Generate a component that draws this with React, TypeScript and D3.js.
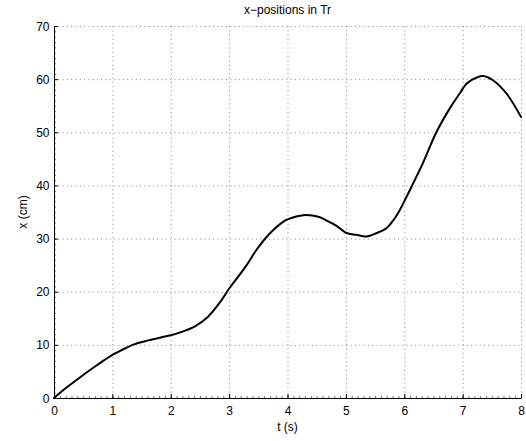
import React from "react";
import * as d3 from "d3";

const tValues = [0, 0.23, 0.46, 0.74, 1.0, 1.14, 1.37, 1.6, 1.83, 2.0, 2.2, 2.4, 2.63, 2.85, 3.0, 3.07, 3.3, 3.47, 3.7, 3.93, 4.0, 4.27, 4.53, 4.67, 4.84, 5.0, 5.18, 5.35, 5.52, 5.7, 5.81, 5.92, 6.0, 6.18, 6.32, 6.55, 6.78, 6.95, 7.07, 7.24, 7.35, 7.52, 7.75, 8.0];
const xValues = [0, 2.1, 4.0, 6.2, 8.1, 8.9, 10.1, 10.8, 11.4, 11.8, 12.5, 13.4, 15.2, 18.1, 20.6, 21.6, 25.0, 27.9, 31.0, 33.2, 33.6, 34.4, 34.1, 33.4, 32.4, 31.1, 30.7, 30.4, 31.0, 32.0, 33.4, 35.3, 37.0, 41.0, 44.2, 50.0, 54.5, 57.3, 59.2, 60.3, 60.6, 59.8, 57.3, 52.9];
const xTicks = [0, 1, 2, 3, 4, 5, 6, 7, 8];
const yTicks = [0, 10, 20, 30, 40, 50, 60, 70];
const title = "x\u2212positions in Tr";
const xLabel = "t (s)";
const yLabel = "x (cm)";

export default function App() {
  const W = 526, H = 441;
  const left = 54, right = 521, top = 26, bottom = 398;
  const xs = d3.scaleLinear().domain([0, 8]).range([left, right]);
  const ys = d3.scaleLinear().domain([0, 70]).range([bottom, top]);
  const data = tValues.map((t, i) => [t, xValues[i]] as [number, number]);
  const line = d3.line<[number, number]>().x(d => xs(d[0])).y(d => ys(d[1])).curve(d3.curveCatmullRom.alpha(0.5));
  const xMinor = d3.range(0, 80.5, 1).map(v => v / 10);
  const yMinor = d3.range(0, 71, 1);
  const font = "'Liberation Sans', Arial, Helvetica, sans-serif";
  return (
    <svg width={W} height={H} style={{ position: "absolute", left: 0, top: 0, background: "#fff" }} fontFamily={font}>
      <rect x={0} y={0} width={W} height={H} fill="#fff" />
      {xTicks.map(t => (
        <line key={"gx" + t} x1={xs(t) + 0.5} x2={xs(t) + 0.5} y1={top} y2={bottom} stroke="#666" strokeWidth={0.8} strokeDasharray="1,3.3" />
      ))}
      {yTicks.map(v => (
        <line key={"gy" + v} x1={left} x2={right} y1={ys(v) + 0.5} y2={ys(v) + 0.5} stroke="#666" strokeWidth={0.8} strokeDasharray="1,3.3" />
      ))}
      {xMinor.map((t, i) => (
        <line key={"mx" + i} x1={xs(t) + 0.5} x2={xs(t) + 0.5} y1={bottom} y2={bottom - 2} stroke="#333" strokeWidth={0.7} />
      ))}
      {yMinor.map((v, i) => (
        <line key={"my" + i} x1={left} x2={left + 2} y1={ys(v) + 0.5} y2={ys(v) + 0.5} stroke="#333" strokeWidth={0.7} />
      ))}
      {xTicks.map(t => (
        <line key={"tx" + t} x1={xs(t) + 0.5} x2={xs(t) + 0.5} y1={bottom} y2={bottom - 4} stroke="#000" strokeWidth={1} />
      ))}
      {yTicks.map(v => (
        <line key={"ty" + v} x1={left} x2={left + 4} y1={ys(v) + 0.5} y2={ys(v) + 0.5} stroke="#000" strokeWidth={1} />
      ))}
      <line x1={left + 0.5} x2={left + 0.5} y1={top} y2={bottom + 0.5} stroke="#000" strokeWidth={1} />
      <line x1={left} x2={right + 0.5} y1={bottom + 0.5} y2={bottom + 0.5} stroke="#000" strokeWidth={1} />
      {xTicks.map(t => (
        <text key={"lx" + t} x={xs(t) + 0.5} y={415} textAnchor="middle" fontSize={12} fill="#000">{t}</text>
      ))}
      {yTicks.map(v => (
        <text key={"ly" + v} x={49.5} y={ys(v) + 4.5} textAnchor="end" fontSize={12} fill="#000">{v}</text>
      ))}
      <path d={line(data) || ""} fill="none" stroke="#000" strokeWidth={2} strokeLinejoin="round" strokeLinecap="round" />
      <text x={(left + right) / 2} y={14} textAnchor="middle" fontSize={12} fill="#000">{title}</text>
      <text x={(left + right) / 2} y={431} textAnchor="middle" fontSize={12} fill="#000">{xLabel}</text>
      <text transform={`translate(26.5,${(top + bottom) / 2}) rotate(-90)`} textAnchor="middle" fontSize={12} fill="#000">{yLabel}</text>
    </svg>
  );
}
